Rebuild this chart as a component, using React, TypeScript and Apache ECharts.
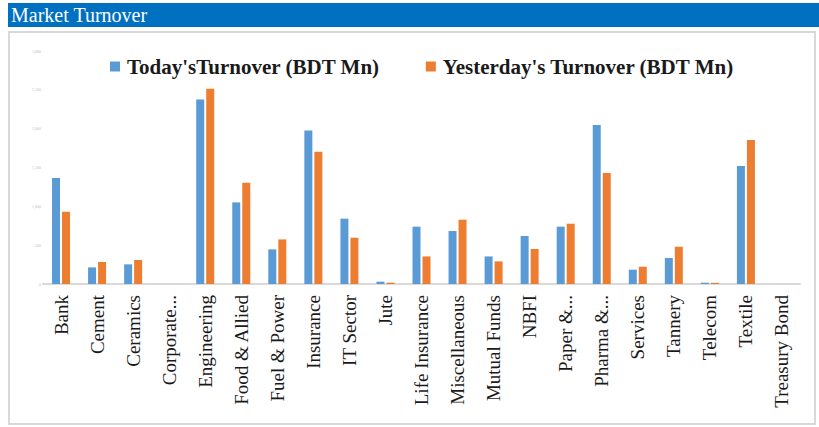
import React, { useEffect, useRef } from "react";
import * as echarts from "echarts";

const categories = [
  "Bank", "Cement", "Ceramics", "Corporate...", "Engineering", "Food & Allied",
  "Fuel & Power", "Insurance", "IT Sector", "Jute", "Life Insurance",
  "Miscellaneous", "Mutual Funds", "NBFI", "Paper &...", "Pharma &...",
  "Services", "Tannery", "Telecom", "Textile", "Treasury Bond",
];
const todayTurnover = [
  1365, 214, 253, 0, 2377, 1051, 446, 1978, 841, 30, 738,
  682, 355, 618, 738, 2047, 184, 335, 17, 1519, 0,
];
const yesterdayTurnover = [
  931, 283, 309, 0, 2515, 1304, 574, 1703, 596, 17, 355,
  828, 291, 451, 776, 1429, 223, 480, 15, 1854, 0,
];
const seriesNames = ["Today'sTurnover (BDT Mn)", "Yesterday's Turnover (BDT Mn)"];
const titleText = "Market Turnover";

const SERIF = "Liberation Serif";

export default function App() {
  const ref = useRef<HTMLDivElement>(null);
  useEffect(() => {
    if (!ref.current) return;
    const chart = echarts.init(ref.current, undefined, { renderer: "svg" });
    chart.setOption({
      animation: false,
      backgroundColor: "#ffffff",
      graphic: [
        {
          type: "rect",
          shape: { x: 8, y: 3, width: 811, height: 24 },
          style: { fill: "#0070C0" },
          silent: true,
        },
        {
          type: "text",
          x: 11,
          y: 15,
          style: {
            text: titleText,
            fill: "#ffffff",
            fontFamily: SERIF,
            fontSize: 20,
            verticalAlign: "middle",
          },
          silent: true,
        },
        {
          type: "rect",
          shape: { x: 9, y: 32, width: 806, height: 392 },
          style: { fill: "none", stroke: "#d9d9d9", lineWidth: 2 },
          silent: true,
        },
      ],
      legend: {
        top: 56,
        left: 110,
        padding: 0,
        itemWidth: 10,
        itemHeight: 10,
        itemGap: 46,
        icon: "rect",
        textStyle: {
          fontFamily: SERIF,
          fontSize: 21,
          fontWeight: "bold",
          color: "#1a1a1a",
          padding: [0, 0, 0, 2],
        },
        data: seriesNames,
      },
      grid: { left: 43, right: 19, top: 51, bottom: 143, containLabel: false },
      xAxis: {
        type: "category",
        data: categories,
        axisLine: { lineStyle: { color: "#d9d9d9", width: 2 } },
        axisTick: { show: false },
        axisLabel: {
          rotate: 90,
          interval: 0,
          margin: 11,
          fontFamily: SERIF,
          fontSize: 19,
          color: "#1a1a1a",
        },
      },
      yAxis: {
        type: "value",
        min: 0,
        max: 3000,
        interval: 500,
        axisLine: { show: false },
        axisTick: { show: false },
        splitLine: { show: false },
        axisLabel: {
          fontSize: 4,
          margin: 2,
          color: "#bfbfbf",
          fontFamily: SERIF,
        },
      },
      series: [
        {
          name: seriesNames[0],
          type: "bar",
          data: todayTurnover,
          barWidth: 8,
          barGap: "25%",
          itemStyle: { color: "#5B9BD5" },
        },
        {
          name: seriesNames[1],
          type: "bar",
          data: yesterdayTurnover,
          barWidth: 8,
          barGap: "25%",
          itemStyle: { color: "#ED7D31" },
        },
      ],
    });
    return () => chart.dispose();
  }, []);
  return (
    <div
      ref={ref}
      style={{ position: "absolute", left: 0, top: 0, width: 819, height: 427 }}
    />
  );
}
